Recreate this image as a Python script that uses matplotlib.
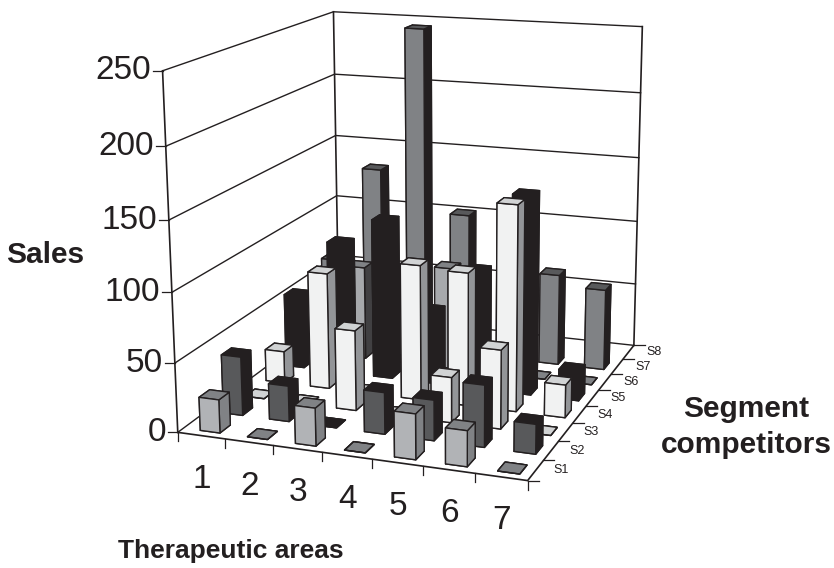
import matplotlib
matplotlib.use('Agg')
import matplotlib.pyplot as plt
from matplotlib.lines import Line2D
from mpl_toolkits.mplot3d import proj3d

plt.rcParams['font.family'] = ['Liberation Sans', 'DejaVu Sans']

areas = ['1', '2', '3', '4', '5', '6', '7']
segments = ['S1', 'S2', 'S3', 'S4', 'S5', 'S6', 'S7', 'S8']
z_ticks = [0, 50, 100, 150, 200, 250]

s1 = [24, 0, 27, 0, 32, 25, 0]
s2 = [43, 26, 0, 30, 29, 44, 21]
s3 = [0, 0, 59, 0, 33, 57, 0]
s4 = [24, 87, 0, 100, 98, 150, 24]
s5 = [56, 100, 120, 55, 89, 148, 22]
s6 = [0, 72, 0, 78, 0, 0, 0]
s7 = [65, 140, 250, 110, 0, 70, 62]
sales = [s1, s2, s3, s4, s5, s6, s7]

# front, side, top of every segment's bars
face_colors = [
    ('#b1b3b6', '#808285', '#808285'),
    ('#58595b', '#231f20', '#231f20'),
    ('#f1f2f2', '#939598', '#d1d3d4'),
    ('#f1f2f2', '#939598', '#d1d3d4'),
    ('#231f20', '#231f20', '#231f20'),
    ('#a7a9ac', '#414042', '#808285'),
    ('#808285', '#231f20', '#58595b'),
]
line_color = '#231f20'
W, H = 834, 568

fig = plt.figure(figsize=(W / 100, H / 100), dpi=100)
# square axes, worked out so the box lands on the reference's corners
# (3d axes have view limits -0.095..0.09 in both directions)
scale = 3330.59
side = scale * 0.185
left = 420.03 - scale * 0.095
bottom = H - (220.77 + scale * 0.095)
ax = fig.add_axes([left / W, bottom / H, side / W, side / H], projection='3d')
ax.set_proj_type('persp', focal_length=0.539)
ax.view_init(elev=14.73, azim=-69.67, roll=0.30)
ax.set_box_aspect((0.998, 1.136, 1))
ax.set_xlim(0, 7)
ax.set_ylim(0, 8)
ax.set_zlim(0, 250)
ax.set_axis_off()
ax.patch.set_alpha(0)

for z in z_ticks:
    ax.plot([0, 0, 7], [0, 8, 8], [z, z, z], color=line_color, lw=1.0, zorder=0)
ax.plot([0, 0], [0, 0], [0, 250], color=line_color, lw=1.2)
ax.plot([0, 0], [8, 8], [0, 250], color=line_color, lw=1.2)
ax.plot([7, 7], [8, 8], [0, 250], color=line_color, lw=1.2)
ax.plot([0, 7, 7], [0, 0, 8], [0, 0, 0], color=line_color, lw=1.2, zorder=0)

for row, values in enumerate(sales):
    front, side_col, top = face_colors[row]
    # bar3d face order: bottom, top, front, back, left, right
    colors = ['none', top, front, 'none', 'none', side_col]
    for col, value in enumerate(values):
        ax.bar3d(col + 0.36, row + 0.24, 0, 0.42, 0.45, value, color=colors, shade=False,
                 edgecolor=line_color, linewidth=1.0)


def to_pixels(x, y, z):
    u, v, _ = proj3d.proj_transform(x, y, z, ax.get_proj())
    return ax.transData.transform((u, v))


def tick(px, py, dx, dy):
    fig.add_artist(Line2D([px / W, (px + dx) / W], [py / H, (py + dy) / H], color=line_color, lw=0.9))


fig.canvas.draw()
for value in z_ticks:
    px, py = to_pixels(0, 0, value)
    tick(px, py, -10, 0)
    fig.text((px - 12) / W, py / H, str(value), fontsize=24, ha='right', va='center', color=line_color)
for i in range(8):
    px, py = to_pixels(i, 0, 0)
    tick(px, py, 0, -9)
for i, label in enumerate(areas):
    px, py = to_pixels(i + 0.5, 0, 0)
    fig.text((px + 1) / W, (py - 44) / H, label, fontsize=24, ha='center', va='center', color=line_color)
for i in range(9):
    px, py = to_pixels(7, i, 0)
    tick(px, py, 11, 0)
for i, label in enumerate(segments):
    px, py = to_pixels(7, i + 0.5, 0)
    fig.text((px + 18) / W, py / H, label, fontsize=9, ha='left', va='center', color=line_color)

fig.text(45 / W, 1 - 255 / H, 'Sales', fontsize=21.5, fontweight='bold', ha='center', va='center', color=line_color)
fig.text(231 / W, 1 - 551 / H, 'Therapeutic areas', fontsize=19, fontweight='bold', ha='center', va='center', color=line_color)
fig.text(746 / W, 1 - 427 / H, 'Segment\ncompetitors', fontsize=21.5, fontweight='bold', ha='center', va='center',
         linespacing=1.4, color=line_color)
fig.savefig('out.png', dpi=100)
